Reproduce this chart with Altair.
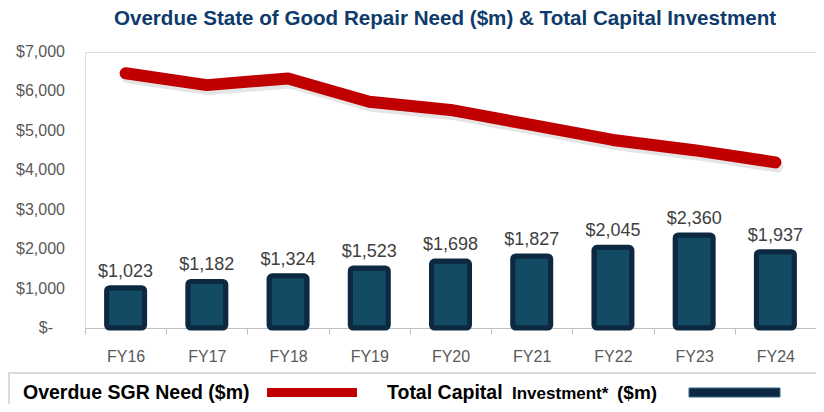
import altair as alt
import pandas as pd

years = ["FY16", "FY17", "FY18", "FY19", "FY20", "FY21", "FY22", "FY23", "FY24"]
sgr_need = [6460, 6160, 6330, 5740, 5530, 5150, 4770, 4510, 4200]
capital = [1023, 1182, 1324, 1523, 1698, 1827, 2045, 2360, 1937]
y_ticks = [0, 1000, 2000, 3000, 4000, 5000, 6000, 7000]

title_text = "Overdue State of Good Repair Need ($m) & Total Capital Investment"
legend_need = "Overdue SGR Need ($m)"
legend_cap_a = "Total Capital"
legend_cap_b = "Investment*"
legend_cap_c = "($m)"

df = pd.DataFrame({"year": years, "sgr": sgr_need, "cap": capital})
df["label"] = ["$" + f"{v:,}" for v in capital]
ticks_df = pd.DataFrame({"tick": y_ticks})
ticks_df["tlabel"] = ["$-" if v == 0 else "$" + f"{v:,}" for v in y_ticks]
ticks_main = ticks_df[ticks_df["tick"] != 0]
ticks_zero = ticks_df[ticks_df["tick"] == 0]
dummy = pd.DataFrame({"a": [0]})

FONT = "Liberation Sans"
AXIS_GRAY = "#bfbfbf"
LABEL_GRAY = "#595959"

xenc = alt.X("year:N", sort=years,
             scale=alt.Scale(type="band", paddingInner=0, paddingOuter=0),
             axis=alt.Axis(title=None, labelAngle=0, labelFont=FONT, labelFontSize=16,
                           labelColor=LABEL_GRAY, domainColor=AXIS_GRAY, tickColor=AXIS_GRAY,
                           tickSize=6, labelPadding=14, tickBand="extent", domainWidth=1.2))
yscale = alt.Scale(domain=[0, 7000], nice=False)

bars = alt.Chart(df).mark_bar(size=38, fill="#134a64", stroke="#0d2841", strokeWidth=5,
                              cornerRadius=3).encode(
    x=xenc,
    y=alt.Y("cap:Q", scale=yscale,
            axis=alt.Axis(title=None, values=y_ticks, grid=False, labels=False,
                          domainColor=AXIS_GRAY, tickColor=AXIS_GRAY, tickSize=4,
                          domainWidth=1.2)),
)

ylabels = alt.Chart(ticks_main).mark_text(font=FONT, fontSize=16, color=LABEL_GRAY, align="right",
                                          baseline="middle").encode(
    x=alt.value(-20),
    y=alt.Y("tick:Q", scale=yscale, axis=None),
    text="tlabel:N",
)
ylabel0 = alt.Chart(ticks_zero).mark_text(font=FONT, fontSize=16, color=LABEL_GRAY, align="right",
                                          baseline="middle").encode(
    x=alt.value(-32),
    y=alt.Y("tick:Q", scale=yscale, axis=None),
    text="tlabel:N",
)

labels = alt.Chart(df).mark_text(font=FONT, fontSize=18, color="#404040", baseline="alphabetic",
                                 dy=-11).encode(
    x=alt.X("year:N", sort=years),
    y=alt.Y("cap:Q", scale=yscale, axis=None),
    text="label:N",
)

shadow = alt.Chart(df).mark_line(color="#000000", opacity=0.1, strokeWidth=12, strokeCap="round",
                                 strokeJoin="round", xOffset=2, yOffset=4).encode(
    x=alt.X("year:N", sort=years),
    y=alt.Y("sgr:Q", scale=yscale, axis=None),
)

line = alt.Chart(df).mark_line(color="#c00000", strokeWidth=12, strokeCap="round",
                               strokeJoin="round").encode(
    x=alt.X("year:N", sort=years),
    y=alt.Y("sgr:Q", scale=yscale, axis=None),
)

title = alt.Chart(dummy).mark_text(font=FONT, fontSize=20.6, fontWeight="bold", color="#0e3b6b",
                                   align="center", baseline="alphabetic").encode(
    x=alt.value(360), y=alt.value(-27), text=alt.value(title_text))

# legend (drawn below the plot area)
leg_box = alt.Chart(dummy).mark_rect(fill="white", stroke="#d0d0d0", strokeWidth=1.5).encode(
    x=alt.value(-76), x2=alt.value(760), y=alt.value(321), y2=alt.value(362))
leg_t1 = alt.Chart(dummy).mark_text(font=FONT, fontSize=19.5, fontWeight="bold", color="#000000",
                                    align="left", baseline="middle").encode(
    x=alt.value(-62), y=alt.value(341), text=alt.value(legend_need))
leg_sw1 = alt.Chart(dummy).mark_rect(fill="#c00000").encode(
    x=alt.value(182), x2=alt.value(272), y=alt.value(336), y2=alt.value(345))
leg_t2 = alt.Chart(dummy).mark_text(font=FONT, fontSize=19.5, fontWeight="bold", color="#000000",
                                    align="left", baseline="middle").encode(
    x=alt.value(302), y=alt.value(341), text=alt.value(legend_cap_a))
leg_t3 = alt.Chart(dummy).mark_text(font=FONT, fontSize=17, fontWeight="bold", color="#000000",
                                    align="left", baseline="middle").encode(
    x=alt.value(427), y=alt.value(342), text=alt.value(legend_cap_b))
leg_t4 = alt.Chart(dummy).mark_text(font=FONT, fontSize=19, fontWeight="bold", color="#000000",
                                    align="left", baseline="middle").encode(
    x=alt.value(532), y=alt.value(341), text=alt.value(legend_cap_c))
leg_sw2 = alt.Chart(dummy).mark_rect(fill="#0e2841", stroke="#2e6a8a", strokeWidth=1).encode(
    x=alt.value(604), x2=alt.value(695), y=alt.value(336), y2=alt.value(345))

chart = alt.layer(bars, ylabels, ylabel0, labels, shadow, line, title, leg_box, leg_t1, leg_sw1,
                  leg_t2, leg_t3, leg_t4, leg_sw2).properties(
    width=731, height=276,
    autosize=alt.AutoSizeParams(type="none"),
    padding={"left": 77, "top": 44, "right": 0, "bottom": 76},
).configure_view(stroke=None).configure(background="white")

chart.save("out.html", embed_options={"renderer": "svg", "actions": False})
